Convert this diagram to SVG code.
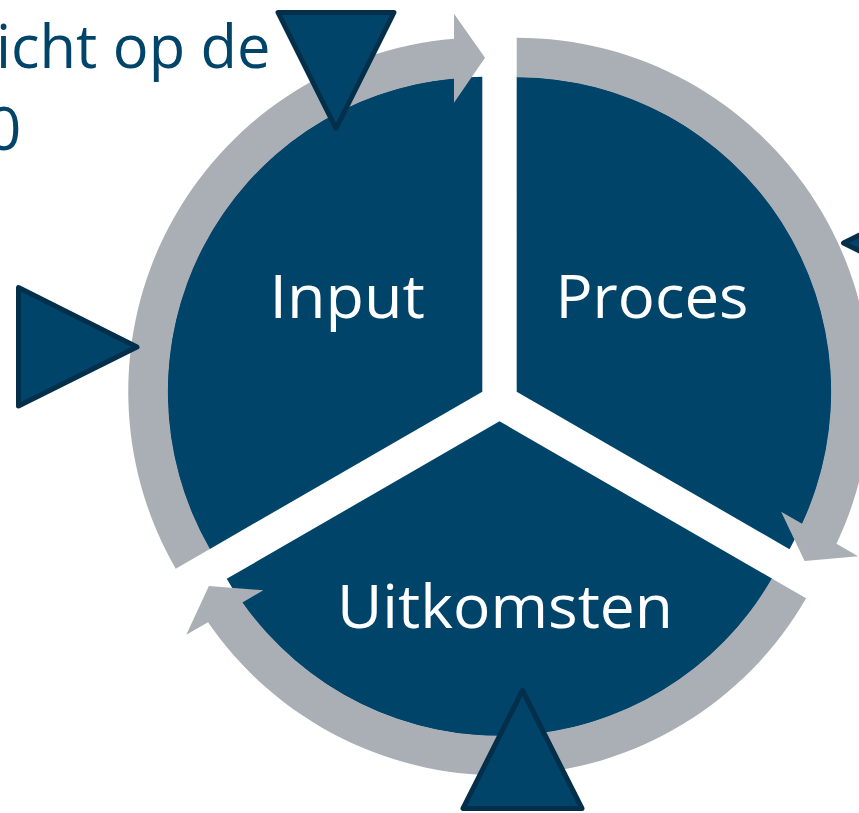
<svg xmlns="http://www.w3.org/2000/svg" width="859" height="813" viewBox="0 0 859 813">
  <style>
    .sector { fill: #01446A; }
    .arrow { fill: #AAAFB6; }
    .marker { fill: #01446A; stroke: #032F4B; stroke-width: 5; stroke-linejoin: round; }
    .label { font-family: "Open Sans", "Noto Sans", "Liberation Sans", sans-serif; font-size: 61px; fill: #FFFFFF; }
    .title { font-family: "Open Sans", "Noto Sans", "Liberation Sans", sans-serif; font-size: 61px; fill: #01446A; }
  </style>
  <defs>
    <path id="sectorShape" d="M0,0 L-272.8,157.5 A315,315 0 0 1 0,-315 Z"/>
    <path id="arrowShape" d="M-272.4,157.25 L-306.6,177 A354,354 0 0 1 -28.3,-352.9 L-28.3,-378 L2.7,-334 L-28.3,-289 L-28.3,-313.2 A314.5,314.5 0 0 0 -272.4,157.25 Z"/>
  </defs>
  <rect width="859" height="813" fill="#FFFFFF"/>

  <g id="title">
    <text class="title" x="-4" y="68" textLength="274.5" lengthAdjust="spacingAndGlyphs">icht op de</text>
    <text class="title" x="-13.6" y="150">0</text>
  </g>

  <g id="node-input">
    <use href="#sectorShape" class="sector" transform="translate(482.3,391.7)"/>
  </g>
  <g id="node-proces">
    <use href="#sectorShape" class="sector" transform="translate(516.7,391.7) rotate(120)"/>
  </g>
  <g id="node-uitkomsten">
    <use href="#sectorShape" class="sector" transform="translate(499.5,421.3) rotate(240)"/>
  </g>

  <g id="connectors">
    <use href="#arrowShape" class="arrow" transform="translate(482.3,391.7)"/>
    <use href="#arrowShape" class="arrow" transform="translate(516.7,391.7) rotate(120)"/>
    <use href="#arrowShape" class="arrow" transform="translate(499.5,421.3) rotate(240)"/>
  </g>

  <g id="labels">
    <text class="label" x="269.5" y="318" textLength="155.5" lengthAdjust="spacingAndGlyphs">Input</text>
    <text class="label" x="555.5" y="318" textLength="193" lengthAdjust="spacingAndGlyphs">Proces</text>
    <text class="label" x="337" y="628" textLength="336" lengthAdjust="spacingAndGlyphs">Uitkomsten</text>
  </g>

  <g id="markers">
    <polygon id="marker-top" class="marker" points="278,12.5 394,12.5 336,128.5"/>
    <polygon id="marker-left" class="marker" points="18.5,287.5 18.5,406 137,347"/>
    <polygon id="marker-bottom" class="marker" points="522.5,690.5 463,808.5 582,808.5"/>
    <polygon id="marker-right" class="marker" points="843.5,243 962,184 962,302"/>
  </g>
</svg>
